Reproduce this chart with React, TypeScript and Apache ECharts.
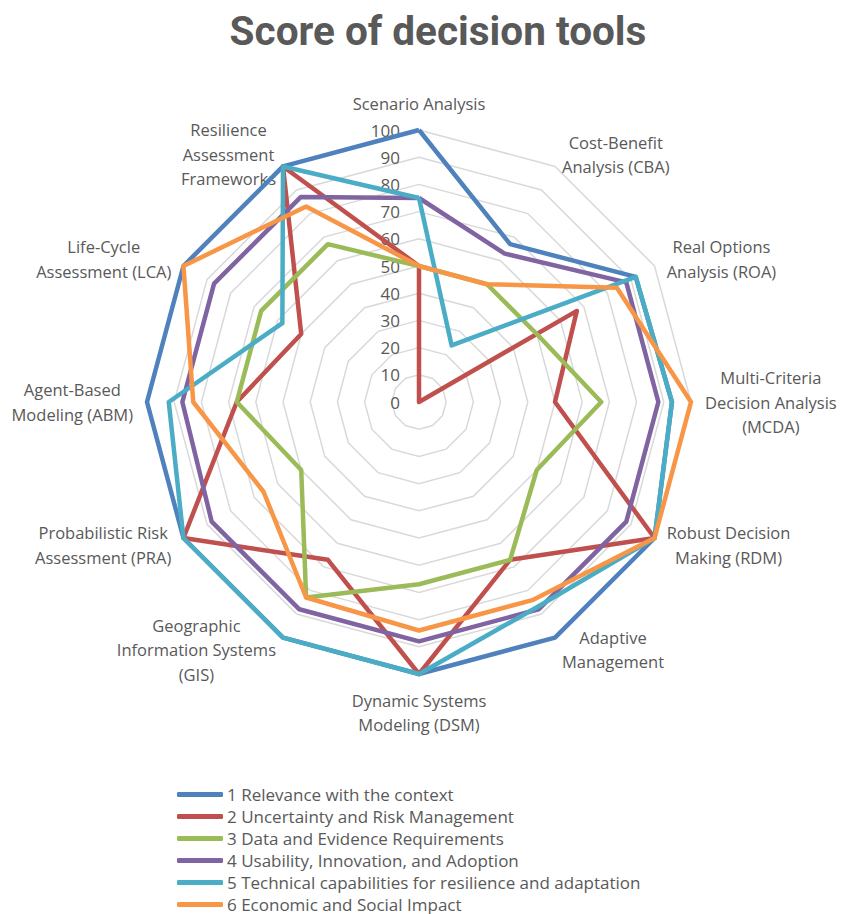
import React, { useEffect, useRef } from "react";
import * as echarts from "echarts";

const indicatorNames = [
  "Scenario Analysis",
  "Cost-Benefit\nAnalysis (CBA)",
  "Real Options\nAnalysis (ROA)",
  "Multi-Criteria\nDecision Analysis\n(MCDA)",
  "Robust Decision\nMaking (RDM)",
  "Adaptive\nManagement",
  "Dynamic Systems\nModeling (DSM)",
  "Geographic\nInformation Systems\n(GIS)",
  "Probabilistic Risk\nAssessment (PRA)",
  "Agent-Based\nModeling (ABM)",
  "Life-Cycle\nAssessment (LCA)",
  "Resilience\nAssessment\nFrameworks",
];

const seriesNames = [
  "1 Relevance with the context",
  "2 Uncertainty and Risk Management",
  "3 Data and Evidence Requirements",
  "4 Usability, Innovation, and Adoption",
  "5 Technical capabilities for resilience and adaptation",
  "6 Economic and Social Impact",
];

const relevance = [100, 67, 92, 93, 100, 100, 100, 100, 100, 100, 100, 100];
const uncertainty = [50, 0, 67, 50, 100, 67, 100, 67, 100, 67, 50, 100];
const dataEvidence = [50, 50, 50, 67, 50, 67, 67, 83, 50, 67, 67, 67];
const usability = [75, 63, 88, 88, 88, 88, 88, 88, 88, 87, 87, 87];
const technical = [75, 24, 92, 93, 100, 87, 100, 100, 100, 92, 58, 100];
const economic = [50, 50, 84, 100, 100, 84, 84, 83, 66, 83, 100, 83];

const tickMin = 0;
const tickMax = 100;
const tickStep = 10;

const colors = ["#4F81BD", "#C0504D", "#9BBB59", "#8064A2", "#4BACC6", "#F79646"];

const FONT = "'Open Sans', 'Noto Sans', sans-serif";
const TEXT = "#595959";

// ECharts radar runs counter-clockwise; Excel runs clockwise.
const order = [0, ...Array.from({ length: indicatorNames.length - 1 }, (_, i) => indicatorNames.length - 1 - i)];
const reorder = <T,>(arr: T[]) => order.map((i) => arr[i]);

export default function App() {
  const ref = useRef<HTMLDivElement>(null);
  useEffect(() => {
    if (!ref.current) return;
    const chart = echarts.init(ref.current, undefined, { renderer: "svg" });
    const allSeries = [relevance, uncertainty, dataEvidence, usability, technical, economic];
    chart.setOption({
      animation: false,
      color: colors,
      title: {
        text: "Score of decision tools",
        left: 433,
        top: 5,
        textAlign: "center",
        textStyle: {
          fontFamily: "Roboto, sans-serif",
          fontWeight: "bold",
          fontSize: 40.5,
          color: TEXT,
        },
      },
      legend: {
        orient: "vertical",
        left: 177,
        top: 786,
        height: 150,
        padding: 0,
        itemWidth: 46,
        itemHeight: 5,
        itemGap: 5,
        icon: "roundRect",
        data: seriesNames,
        textStyle: { fontFamily: FONT, fontSize: 17, color: TEXT, lineHeight: 17, padding: [0, 0, 0, -1] },
      },
      grid: { left: 419, top: 130, width: 1, height: 272, containLabel: false },
      xAxis: { type: "value", show: false },
      yAxis: {
        type: "value",
        min: tickMin,
        max: tickMax,
        interval: tickStep,
        axisLine: { show: false },
        axisTick: { show: false },
        splitLine: { show: false },
        axisLabel: { color: TEXT, fontSize: 17, fontFamily: FONT, margin: 19 },
      },
      radar: {
        center: [419, 402],
        radius: 272,
        startAngle: 90,
        splitNumber: 10,
        shape: "polygon",
        indicator: reorder(indicatorNames).map((name) => ({ name, min: tickMin, max: tickMax })),
        axisLine: { show: false },
        axisTick: { show: false },
        axisLabel: { show: false },
        splitArea: { show: false },
        splitLine: { lineStyle: { color: "#D9D9D9", width: 1.5 } },
        axisNameGap: 14,
        axisName: {
          color: TEXT,
          fontSize: 16.5,
          fontFamily: FONT,
          formatter: (name: string) =>
            name
              .split("\n")
              .map((l) => `{c|${l}}`)
              .join("\n"),
          rich: {
            c: { align: "center", color: TEXT, fontSize: 16.5, fontFamily: FONT, lineHeight: 24.5 },
          },
        },
      },
      series: [
        {
          type: "radar",
          symbol: "none",
          data: allSeries.map((vals, i) => ({
            name: seriesNames[i],
            value: reorder(vals),
            lineStyle: { color: colors[i], width: 4.5, join: "round" },
            itemStyle: { color: colors[i] },
          })),
        },
      ],
    });
    return () => chart.dispose();
  }, []);
  return (
    <div
      ref={ref}
      style={{ position: "absolute", left: 0, top: 0, width: 845, height: 914, background: "#fff" }}
    />
  );
}
